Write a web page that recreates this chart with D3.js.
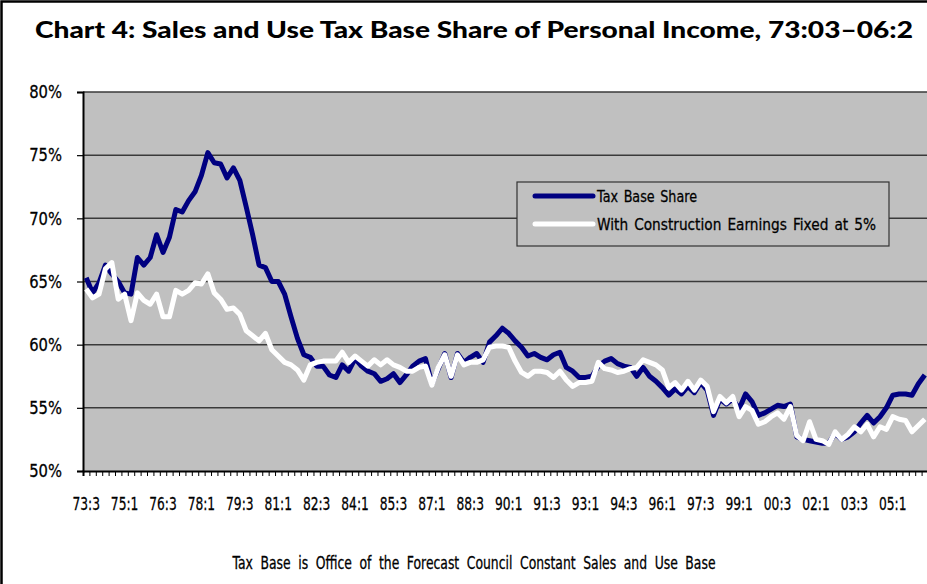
<!DOCTYPE html>
<html>
<head>
<meta charset="utf-8">
<script src="https://cdn.jsdelivr.net/npm/d3@7"></script>
<style>
	body { margin: 0; background: #fff; }
	svg text { font-family: "DejaVu Sans", sans-serif; fill: #000; }
</style>
</head>
<body>
<script>
// 四半期カテゴリ 73:3 〜 06:2 (132期)
var quarters = [];
for (var y = 1973; y <= 2006; y++) {
	for (var q = 1; q <= 4; q++) {
		if ((y === 1973 && q < 3) || (y === 2006 && q > 2)) continue;
		quarters.push(String(y).slice(2) + ":" + q);
	}
}

// 軸ラベル (6期ごと)
var tickLabels = ["73:3","75:1","76:3","78:1","79:3","81:1","82:3","84:1","85:3","87:1","88:3",
	"90:1","91:3","93:1","94:3","96:1","97:3","99:1","00:3","02:1","03:3","05:1"];
var yTicks = [50, 55, 60, 65, 70, 75, 80];

// Tax Base Share (%)
var taxBase = [
	65.3,64.1,64.9,66.3,65.6,65.0,64.1,64.0,66.9,66.3,66.9,68.7,67.3,68.5,70.7,70.5,71.4,72.1,73.4,75.2,
	74.4,74.3,73.2,74.0,73.0,70.9,68.7,66.3,66.1,65.0,65.0,64.0,62.2,60.5,59.2,59.0,58.3,58.3,57.6,57.4,
	58.4,57.9,58.9,58.3,57.9,57.7,57.1,57.3,57.7,57.0,57.6,58.3,58.7,58.9,56.9,58.1,59.3,57.4,59.3,58.6,
	59.0,59.3,58.6,60.2,60.7,61.3,60.9,60.3,59.8,59.1,59.3,59.0,58.8,59.2,59.4,58.2,57.9,57.4,57.4,57.5,
	58.3,58.7,58.9,58.5,58.3,58.2,57.5,58.2,57.5,57.1,56.6,56.0,56.5,56.1,56.7,56.2,57.0,56.4,54.4,55.7,
	55.3,55.7,54.9,56.1,55.5,54.4,54.6,54.9,55.2,55.1,55.3,52.7,52.5,52.4,52.3,52.2,52.2,53.0,52.5,52.7,
	53.1,53.8,54.4,53.8,54.3,55.0,56.0,56.1,56.1,56.0,56.9,57.6
];
// With Construction Earnings Fixed at 5% (%)
var fixedConst = [
	64.4,63.7,64.0,66.0,66.5,63.6,64.0,61.9,64.1,63.5,63.2,64.0,62.2,62.2,64.3,64.0,64.3,64.9,64.8,65.6,
	64.1,63.6,62.8,62.9,62.4,61.1,60.7,60.3,60.9,59.6,59.1,58.6,58.4,58.0,57.2,58.4,58.6,58.7,58.7,58.7,
	59.4,58.6,59.1,58.7,58.3,58.8,58.4,58.8,58.4,58.2,57.9,57.9,58.2,58.3,56.8,58.2,59.2,57.5,59.2,58.4,
	58.6,58.6,58.8,59.8,59.9,59.9,59.8,58.7,57.8,57.5,57.9,57.9,57.8,57.4,57.9,57.2,56.7,57.0,57.0,57.1,
	58.6,58.1,58.0,57.8,57.9,58.1,58.2,58.8,58.6,58.4,58.0,56.6,57.0,56.4,57.1,56.4,57.2,56.7,54.7,55.9,
	55.4,55.9,54.3,55.1,54.8,53.7,53.9,54.3,54.6,54.1,55.1,52.8,52.4,53.9,52.5,52.4,52.1,53.1,52.5,52.9,
	53.5,53.1,53.7,52.7,53.5,53.3,54.3,54.1,54.0,53.1,53.6,54.1
];

var seriesNames = ["Tax Base Share", "With Construction Earnings Fixed at 5%"];
var seriesColors = ["#000080", "#ffffff"];

var W = 927, H = 584;
var plot = {left: 83, right: 928, top: 92, bottom: 471};

// 文字を横に詰める(細身フォントの代わり)
function condense(sel, factor){
	sel.each(function(){
		var w = this.getComputedTextLength();
		d3.select(this).attr("textLength", w * factor).attr("lengthAdjust", "spacingAndGlyphs");
	});
}

var svg = d3.select("body").append("svg")
	.attr("width", W)
	.attr("height", H);

// 外枠
svg.append("rect")
	.attr("x", 1.5).attr("y", 1.5)
	.attr("width", W + 20).attr("height", H + 20)
	.attr("fill", "none").attr("stroke", "#000").attr("stroke-width", 2.5);

// タイトル
svg.append("text")
	.attr("x", 474).attr("y", 38)
	.attr("text-anchor", "middle")
	.attr("textLength", 878).attr("lengthAdjust", "spacingAndGlyphs")
	.style("font-family", "'Lato', 'Open Sans', sans-serif")
	.style("font-weight", "900")
	.style("font-size", "22px")
	.text("Chart 4: Sales and Use Tax Base Share of Personal Income, 73:03\u201306:2");

// スケール
var x = d3.scaleBand().domain(quarters).range([plot.left, plot.right]).padding(0);
var xIdx = d3.scaleLinear().domain([0, quarters.length]).range([plot.left, plot.right]);
var yScale = d3.scaleLinear().domain([50, 80]).range([plot.bottom, plot.top]);

// 描画領域
svg.append("rect")
	.attr("x", plot.left).attr("y", plot.top)
	.attr("width", plot.right - plot.left).attr("height", plot.bottom - plot.top)
	.attr("fill", "#c0c0c0");

// グリッド線
svg.append("g")
	.selectAll("line")
	.data(yTicks.slice(1))
	.enter().append("line")
	.attr("x1", plot.left).attr("x2", plot.right)
	.attr("y1", function(d){ return yScale(d); })
	.attr("y2", function(d){ return yScale(d); })
	.attr("stroke", "#3a3a3a").attr("stroke-width", 1.5);

// Y軸
var yAxis = svg.append("g")
	.attr("transform", "translate(" + plot.left + ",0)")
	.call(d3.axisLeft(yScale).tickValues(yTicks).tickSize(6).tickPadding(15)
		.tickFormat(function(d){ return d + "%"; }));
yAxis.select(".domain").attr("stroke", "#000").attr("stroke-width", 2);
yAxis.selectAll(".tick line").attr("stroke", "#000").attr("stroke-width", 1.2);
yAxis.selectAll("text")
	.style("font-size", "18px").style("font-family", "'DejaVu Sans', sans-serif")
	.style("fill", "#000").style("stroke", "#000").style("stroke-width", 0.3)
	.call(condense, 0.82);

// X軸 (カテゴリ境界の目盛り)
var xAxis = svg.append("g")
	.attr("transform", "translate(0," + plot.bottom + ")")
	.call(d3.axisBottom(xIdx).tickValues(d3.range(0, quarters.length + 1)).tickSize(5).tickFormat(""));
xAxis.select(".domain").attr("stroke", "#000").attr("stroke-width", 2);
xAxis.selectAll(".tick line").attr("stroke", "#000").attr("stroke-width", 1);

// X軸ラベル
svg.append("g")
	.selectAll("text")
	.data(tickLabels)
	.enter().append("text")
	.attr("x", function(d){ return x(d) + x.bandwidth() / 2; })
	.attr("y", 510)
	.attr("text-anchor", "middle")
	.style("font-size", "18px")
	.style("stroke", "#000").style("stroke-width", 0.3)
	.text(function(d){ return d; })
	.call(condense, 0.68);

// 折れ線
var line = d3.line()
	.x(function(d, i){ return x(quarters[i]) + x.bandwidth() / 2; })
	.y(function(d){ return yScale(d); });

[taxBase, fixedConst].forEach(function(s, i){
	svg.append("path")
		.datum(s)
		.attr("fill", "none")
		.attr("stroke", seriesColors[i])
		.attr("stroke-width", 5)
		.attr("stroke-linejoin", "round")
		.attr("d", line);
});

// 凡例
var legendWidths = [100, 279];
var legend = svg.append("g").attr("transform", "translate(517,182)");
legend.append("rect")
	.attr("width", 372).attr("height", 64)
	.attr("fill", "#c0c0c0").attr("stroke", "#333").attr("stroke-width", 1.2);
seriesNames.forEach(function(name, i){
	var ly = 14 + i * 28;
	legend.append("line")
		.attr("x1", 18).attr("x2", 76)
		.attr("y1", ly).attr("y2", ly)
		.attr("stroke", seriesColors[i]).attr("stroke-width", 5)
		.attr("stroke-linecap", "round");
	legend.append("text")
		.attr("x", 80).attr("y", ly + 6)
		.attr("textLength", legendWidths[i]).attr("lengthAdjust", "spacingAndGlyphs")
		.style("font-size", "16px")
		.style("word-spacing", "2px")
		.style("stroke", "#000").style("stroke-width", 0.3)
		.text(name);
});

// 注記
svg.append("text")
	.attr("x", 474).attr("y", 569)
	.attr("text-anchor", "middle")
	.attr("textLength", 483).attr("lengthAdjust", "spacingAndGlyphs")
	.style("font-size", "17px")
	.style("word-spacing", "5px")
	.style("stroke", "#000").style("stroke-width", 0.3)
	.text("Tax Base is Office of the Forecast Council Constant Sales and Use Base");
</script>
</body>
</html>
